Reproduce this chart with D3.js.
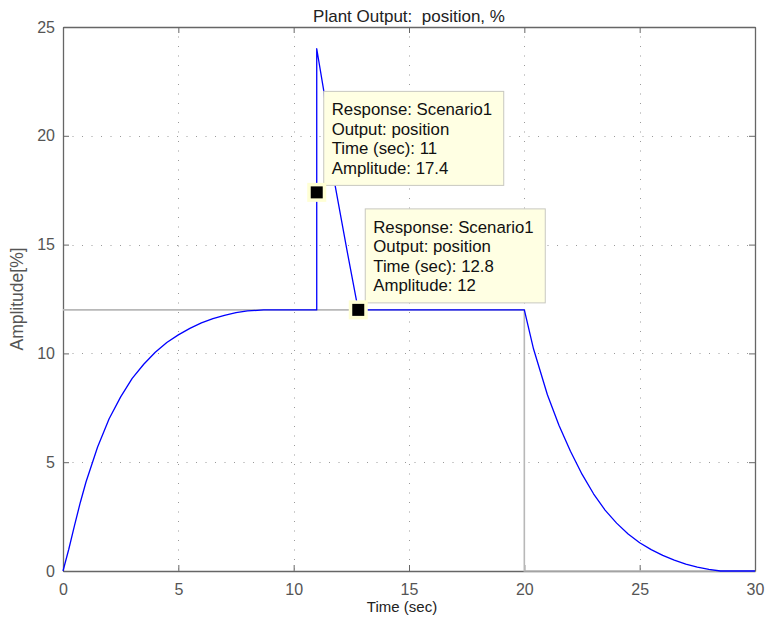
<!DOCTYPE html>
<html>
<head>
<meta charset="utf-8">
<script src="https://cdn.jsdelivr.net/npm/d3@7"></script>
<style>
  html, body { margin: 0; padding: 0; background: #fff; }
  svg { display: block; font-family: "Liberation Sans", Arial, Helvetica, sans-serif; }
</style>
</head>
<body>
<svg id="chart" width="768" height="621"></svg>
<script>
// Plant output response (blue) and setpoint signal (grey)
const responseTime = [0, 0.25, 0.5, 0.75, 1, 1.5, 2, 2.5, 3, 3.5, 4, 4.5, 5, 5.5, 6, 6.5, 7, 7.5, 8, 8.7,
  11, 11, 11.3, 11.8, 12.3, 12.8, 20, 20.4, 21, 21.5, 22, 22.5, 23, 23.5, 24, 24.5, 25, 25.5, 26, 26.5, 27, 27.5, 28, 28.5, 30];
const responseAmp = [0, 1.0, 2.1, 3.15, 4.1, 5.7, 7.0, 8.0, 8.85, 9.5, 10.05, 10.5, 10.85, 11.15, 11.4, 11.6, 11.75, 11.87, 11.95, 12,
  12, 24, 22.1, 17.7, 14.8, 12, 12, 10.2, 8.1, 6.7, 5.5, 4.45, 3.55, 2.8, 2.2, 1.7, 1.3, 0.98, 0.72, 0.5, 0.32, 0.18, 0.07, 0, 0];

const setpointTime = [0, 20, 20, 30];
const setpointAmp = [12, 12, 0, 0];

// Data tips
const tipTime = [11, 12.8];
const tipAmp = [17.4, 12];
const tipResponse = ["Scenario1", "Scenario1"];
const tipOutput = ["position", "position"];

const xTicks = [0, 5, 10, 15, 20, 25, 30];
const yTicks = [0, 5, 10, 15, 20, 25];

const titleText = "Plant Output:  position, %";
const xLabel = "Time (sec)";
const yLabel = "Amplitude[%]";

const margin = { left: 63, top: 27, right: 13, bottom: 50 };
const W = 768, H = 621;
const svg = d3.select("#chart");

const x = d3.scaleLinear().domain([0, 30]).range([margin.left, W - margin.right]);
const y = d3.scaleLinear().domain([0, 25]).range([H - margin.bottom, margin.top]);
const x0 = x.range()[0], x1 = x.range()[1], y0 = y.range()[0], y1 = y.range()[1];

// dotted grid
const grid = svg.append("g");
grid.selectAll("line.gx").data(xTicks.slice(1, -1)).join("line")
  .attr("x1", d => Math.round(x(d)) + 0.5).attr("x2", d => Math.round(x(d)) + 0.5)
  .attr("y1", y1).attr("y2", y0)
  .attr("stroke", "#9a9a9a").attr("stroke-width", 1).attr("stroke-dasharray", "1,8.5");
grid.selectAll("line.gy").data(yTicks.slice(1, -1)).join("line")
  .attr("y1", d => Math.round(y(d)) + 0.5).attr("y2", d => Math.round(y(d)) + 0.5)
  .attr("x1", x0).attr("x2", x1)
  .attr("stroke", "#9a9a9a").attr("stroke-width", 1).attr("stroke-dasharray", "1,8.5");

// axes with inward ticks
const tickLen = 6;
const axB = svg.append("g").attr("transform", `translate(0,${y0})`)
  .call(d3.axisBottom(x).tickValues(xTicks).tickSizeInner(-tickLen).tickSizeOuter(0).tickPadding(13));
const axT = svg.append("g").attr("transform", `translate(0,${y1})`)
  .call(d3.axisTop(x).tickValues(xTicks).tickSizeInner(-tickLen).tickSizeOuter(0).tickFormat(""));
const axL = svg.append("g").attr("transform", `translate(${x0},0)`)
  .call(d3.axisLeft(y).tickValues(yTicks).tickSizeInner(-tickLen).tickSizeOuter(0).tickPadding(8));
const axR = svg.append("g").attr("transform", `translate(${x1},0)`)
  .call(d3.axisRight(y).tickValues(yTicks).tickSizeInner(-tickLen).tickSizeOuter(0).tickFormat(""));
[axB, axT, axL, axR].forEach(a => {
  a.select(".domain").attr("stroke", "#666").attr("stroke-width", 1.3);
  a.selectAll(".tick line").attr("stroke", "#666");
  a.selectAll("text").attr("fill", "#555").style("font-size", "16px")
    .style("font-family", "'Liberation Sans', Arial, sans-serif");
});

// setpoint signal
const line = d3.line().x(d => x(d[0])).y(d => y(d[1]));
svg.append("path")
  .datum(setpointTime.map((t, i) => [t, setpointAmp[i]]))
  .attr("d", line).attr("fill", "none").attr("stroke", "#b8b8b8").attr("stroke-width", 1.6);

// response
svg.append("path")
  .datum(responseTime.map((t, i) => [t, responseAmp[i]]))
  .attr("d", line)
  .attr("fill", "none").attr("stroke", "#0000ff").attr("stroke-width", 1.3)
  .attr("stroke-linejoin", "round");

// data tips
const tips = tipTime.map((t, i) => ({
  t, a: tipAmp[i],
  lines: [`Response: ${tipResponse[i]}`, `Output: ${tipOutput[i]}`, `Time (sec): ${t}`, `Amplitude: ${tipAmp[i]}`]
}));
const tipG = svg.append("g").selectAll("g").data(tips).join("g");
tipG.append("rect")
  .attr("x", d => x(d.t) + 7).attr("y", d => y(d.a) - 101)
  .attr("width", 180).attr("height", 94)
  .attr("fill", "#ffffe3").attr("stroke", "#c8c8c0").attr("stroke-width", 1);
tipG.each(function(d) {
  const g = d3.select(this);
  g.selectAll("text").data(d.lines).join("text")
    .attr("x", x(d.t) + 15)
    .attr("y", (s, j) => y(d.a) - 77 + j * 19.5)
    .attr("fill", "#111").style("font-size", "16.8px")
    .text(s => s);
});
tipG.append("rect")
  .attr("x", d => x(d.t) - 9.5).attr("y", d => y(d.a) - 9.5)
  .attr("width", 19).attr("height", 19).attr("fill", "#ffffd4");
tipG.append("rect")
  .attr("x", d => x(d.t) - 6).attr("y", d => y(d.a) - 6)
  .attr("width", 12).attr("height", 12).attr("fill", "#000");

// titles
svg.append("text").attr("x", (x0 + x1) / 2).attr("y", 22).attr("text-anchor", "middle")
  .style("white-space", "pre").attr("xml:space", "preserve")
  .attr("fill", "#222").style("font-size", "17px").text(titleText);
svg.append("text").attr("x", (x0 + x1) / 2 - 7).attr("y", 612).attr("text-anchor", "middle")
  .attr("fill", "#222").style("font-size", "15px").text(xLabel);
svg.append("text").attr("transform", `translate(23,${(y0 + y1) / 2}) rotate(-90)`)
  .attr("text-anchor", "middle").attr("fill", "#555").style("font-size", "17.5px").text(yLabel);
</script>
</body>
</html>
